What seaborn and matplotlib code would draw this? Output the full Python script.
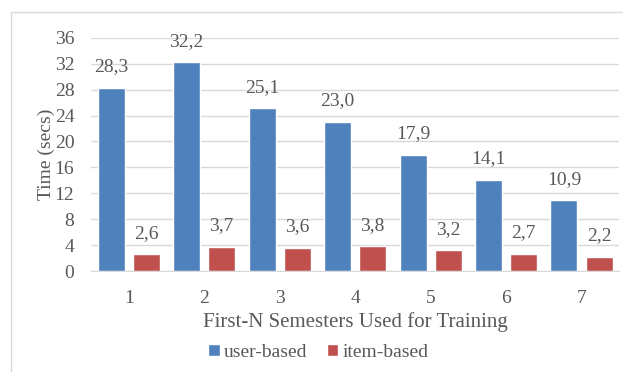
import matplotlib.pyplot as plt
import pandas as pd
import seaborn as sns
from matplotlib.patches import Rectangle

# values (secs)
semesters = ['1', '2', '3', '4', '5', '6', '7']
user_based = [28.3, 32.2, 25.1, 23.0, 17.9, 14.1, 10.9]
item_based = [2.6, 3.7, 3.6, 3.8, 3.2, 2.7, 2.2]
series_names = ['user-based', 'item-based']

df = pd.DataFrame({
    'N': semesters * 2,
    'Time': user_based + item_based,
    'Method': [series_names[0]] * len(semesters) + [series_names[1]] * len(semesters),
})

sns.set_style('white')
plt.rcParams['font.family'] = ['Liberation Serif', 'DejaVu Serif']
text_color = '#595959'
colors = ['#4F81BD', '#C0504D']

fig = plt.figure(figsize=(6.23, 3.72), dpi=100)
ax = fig.add_axes([0.146, 0.2715, 0.848, 0.627])
sns.barplot(data=df, x='N', y='Time', hue='Method', palette=colors, saturation=1,
            width=0.93, gap=0.23, ax=ax, legend=True)

for container in ax.containers:
    ax.bar_label(container, labels=[f'{v:.1f}'.replace('.', ',') for v in container.datavalues],
                 padding=9, fontsize=14, color=text_color)

ax.set_ylim(0, 36)
ax.set_yticks(range(0, 37, 4))
ax.set_xlim(-0.5, 6.5)
ax.grid(visible=True, axis='y', color='#D9D9D9', linewidth=1)
ax.set_axisbelow(True)
for s in ['top', 'right', 'left']:
    ax.spines[s].set_visible(False)
ax.spines['bottom'].set_color('#D9D9D9')
ax.tick_params(axis='both', labelsize=14, colors=text_color, length=0)
ax.tick_params(axis='x', pad=14)
ax.tick_params(axis='y', pad=12)

ax.set_xlabel('First-N Semesters Used for Training', fontsize=15, color=text_color, labelpad=3)
ax.set_ylabel('Time (secs)', fontsize=14, color=text_color, labelpad=0)

ax.legend(loc='center', bbox_to_anchor=(0.43, -0.35), ncol=2, frameon=False,
          fontsize=14, handlelength=0.6, handleheight=0.6, handletextpad=0.2,
          columnspacing=1.0, labelcolor=text_color, borderpad=0)

# outer chart-area border
fig.patches.append(Rectangle((11 / 623, -0.01), 1.0, 1 - 12 / 372 + 0.01,
                             transform=fig.transFigure, fill=False,
                             edgecolor='#D9D9D9', linewidth=1))

plt.savefig('out.png', dpi=100)
